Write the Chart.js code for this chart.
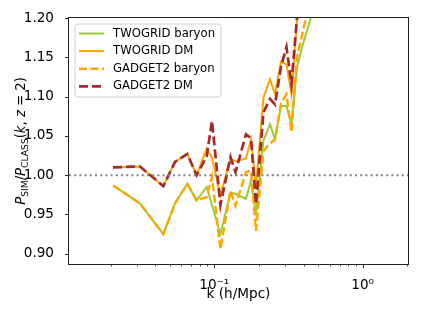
<!DOCTYPE html>
<html>
<head>
<meta charset="utf-8">
<script src="https://cdn.jsdelivr.net/npm/chart.js@4/dist/chart.umd.min.js"></script>
<style>
  html, body { margin: 0; padding: 0; background: #fff; }
  #wrap { width: 421px; height: 316px; }
</style>
</head>
<body>
<div id="wrap"><canvas id="ratio-chart" width="421" height="316"></canvas></div>
<script>
// k grid (h/Mpc) and P_sim / P_class ratios
const kValues = [0.0208, 0.0316, 0.0454, 0.0544, 0.0658, 0.0761, 0.0889, 0.0965, 0.110, 0.1286,
                 0.139, 0.1635, 0.1768, 0.191, 0.2145, 0.2373, 0.2566, 0.2815, 0.3065, 0.3313,
                 0.3608, 0.396, 0.4346, 0.48];

const twogridBaryon = [0.987, 0.964, 0.925, 0.964, 0.989, 0.968, 0.985, 0.962, 0.925, 0.978,
                       0.976, 0.970, 0.993, 0.951, 1.044, 1.065, 1.046, 1.088, 1.088, 1.065,
                       1.137, 1.167, 1.192, 1.225];
const twogridDM = [1.010, 1.011, 0.986, 1.017, 1.027, 1.000, 1.034, 1.022, 0.975, 1.021,
                   1.018, 1.021, 1.046, 0.985, 1.099, 1.122, 1.103, 1.144, 1.141, 1.103,
                   1.197, 1.240, 1.280, 1.320];
const gadgetBaryon = [0.987, 0.964, 0.925, 0.964, 0.989, 0.968, 0.972, 0.998, 0.906, 0.980,
                      0.961, 1.004, 1.006, 0.929, 1.031, 1.040, 1.046, 1.091, 1.103, 1.055,
                      1.150, 1.184, 1.215, 1.260];
const gadgetDM = [1.010, 1.011, 0.986, 1.017, 1.027, 1.000, 1.024, 1.069, 0.962, 1.023,
                  1.004, 1.052, 1.047, 0.963, 1.080, 1.097, 1.090, 1.138, 1.163, 1.116,
                  1.200, 1.240, 1.280, 1.320];

const refLineX = [0.0105, 2.02];
const refLineY = [1.0, 1.0];

const yTicks = [0.90, 0.95, 1.00, 1.05, 1.10, 1.15, 1.20];
const xMajorTicks = [0.1, 1];
const xMajorLabels = ['10\u207B\u00B9', '10\u2070'];
const xMinorTicks = [0.02, 0.03, 0.04, 0.05, 0.06, 0.07, 0.08, 0.09,
                     0.2, 0.3, 0.4, 0.5, 0.6, 0.7, 0.8, 0.9, 2];

const legendLabels = ['TWOGRID baryon', 'TWOGRID DM', 'GADGET2 baryon', 'GADGET2 DM'];

Chart.defaults.font.family = "'DejaVu Sans', sans-serif";
Chart.defaults.color = '#000';

function toPoints(xs, ys) {
    return xs.map((x, i) => ({ x: x, y: ys[i] }));
}

// frame + matplotlib style tick marks
const framePlugin = {
    id: 'frame',
    afterDraw(chart) {
        const ctx = chart.ctx;
        const area = chart.chartArea;
        const xs = chart.scales.x;
        const ys = chart.scales.y;
        ctx.save();
        ctx.strokeStyle = '#222';
        ctx.lineWidth = 1;
        ctx.strokeRect(area.left - 0.5, area.top - 0.5, area.right - area.left + 1, area.bottom - area.top + 1);

        ctx.beginPath();
        yTicks.forEach(v => {
            const py = Math.round(ys.getPixelForValue(v)) + 0.5;
            ctx.moveTo(area.left - 0.5, py);
            ctx.lineTo(area.left - 4, py);
        });
        xMajorTicks.forEach(v => {
            const px = Math.round(xs.getPixelForValue(v)) + 0.5;
            ctx.moveTo(px, area.bottom + 0.5);
            ctx.lineTo(px, area.bottom + 4);
        });
        ctx.stroke();

        ctx.beginPath();
        ctx.lineWidth = 0.8;
        xMinorTicks.forEach(v => {
            const px = Math.round(xs.getPixelForValue(v)) + 0.5;
            ctx.moveTo(px, area.bottom + 0.5);
            ctx.lineTo(px, area.bottom + 2.5);
        });
        ctx.stroke();
        ctx.restore();
    }
};

// legend box in the upper left, like matplotlib's
const legendPlugin = {
    id: 'boxLegend',
    afterDraw(chart) {
        const ctx = chart.ctx;
        const x0 = 75, y0 = 24, w = 146, h = 73, r = 3;
        ctx.save();
        ctx.beginPath();
        ctx.moveTo(x0 + r, y0);
        ctx.arcTo(x0 + w, y0, x0 + w, y0 + h, r);
        ctx.arcTo(x0 + w, y0 + h, x0, y0 + h, r);
        ctx.arcTo(x0, y0 + h, x0, y0, r);
        ctx.arcTo(x0, y0, x0 + w, y0, r);
        ctx.closePath();
        ctx.fillStyle = 'rgba(255,255,255,0.8)';
        ctx.fill();
        ctx.strokeStyle = '#d0d0d0';
        ctx.lineWidth = 1;
        ctx.stroke();

        ctx.font = "11.7px 'DejaVu Sans'";
        ctx.textBaseline = 'middle';
        ctx.fillStyle = '#000';
        legendLabels.forEach((label, i) => {
            const ds = chart.data.datasets[i];
            const rowY = 33.5 + i * 17.6;
            ctx.beginPath();
            ctx.strokeStyle = ds.borderColor;
            ctx.lineWidth = ds.borderWidth;
            ctx.setLineDash(ds.borderDash || []);
            ctx.moveTo(79, rowY);
            ctx.lineTo(104, rowY);
            ctx.stroke();
            ctx.setLineDash([]);
            ctx.fillText(label, 113, rowY);
        });
        ctx.restore();
    }
};

// rotated y label with subscripts
const yLabelPlugin = {
    id: 'yLabel',
    afterDraw(chart) {
        const ctx = chart.ctx;
        const area = chart.chartArea;
        const big = 13.2, small = 9.2;
        const parts = [
            { t: 'P', f: `italic ${big}px 'DejaVu Sans'`, dy: 0 },
            { t: 'SIM', f: `${small}px 'DejaVu Sans'`, dy: 2.8 },
            { t: '/', f: `${big}px 'DejaVu Sans'`, dy: 0 },
            { t: 'P', f: `italic ${big}px 'DejaVu Sans'`, dy: 0 },
            { t: 'CLASS', f: `${small}px 'DejaVu Sans'`, dy: 2.8 },
            { t: '(', f: `${big}px 'DejaVu Sans'`, dy: 0 },
            { t: 'k', f: `italic ${big}px 'DejaVu Sans'`, dy: 0 },
            { t: ', ', f: `${big}px 'DejaVu Sans'`, dy: 0 },
            { t: 'z', f: `italic ${big}px 'DejaVu Sans'`, dy: 0 },
            { t: ' = 2)', f: `${big}px 'DejaVu Sans'`, dy: 0 }
        ];
        ctx.save();
        let total = 0;
        parts.forEach(p => { ctx.font = p.f; p.w = ctx.measureText(p.t).width; total += p.w; });
        ctx.translate(25, (area.top + area.bottom) / 2);
        ctx.rotate(-Math.PI / 2);
        ctx.fillStyle = '#000';
        ctx.textBaseline = 'alphabetic';
        let pos = -total / 2;
        parts.forEach(p => {
            ctx.font = p.f;
            ctx.fillText(p.t, pos, p.dy);
            pos += p.w;
        });
        ctx.restore();
    }
};

const ctx = document.getElementById('ratio-chart').getContext('2d');

const chart = new Chart(ctx, {
    type: 'line',
    data: {
        datasets: [
            {
                label: 'TWOGRID baryon',
                data: toPoints(kValues, twogridBaryon),
                borderColor: '#9acd32',
                borderWidth: 2,
                order: 5
            },
            {
                label: 'TWOGRID DM',
                data: toPoints(kValues, twogridDM),
                borderColor: '#ffa500',
                borderWidth: 2,
                order: 4
            },
            {
                label: 'GADGET2 baryon',
                data: toPoints(kValues, gadgetBaryon),
                borderColor: '#ffa500',
                borderWidth: 2.4,
                borderDash: [8, 3.5],
                order: 3
            },
            {
                label: 'GADGET2 DM',
                data: toPoints(kValues, gadgetDM),
                borderColor: '#a52a2a',
                borderWidth: 2.7,
                borderDash: [9, 4],
                order: 2
            },
            {
                label: 'ref',
                data: toPoints(refLineX, refLineY),
                borderColor: '#808080',
                borderWidth: 2,
                borderDash: [2, 3.2],
                order: 1
            }
        ]
    },
    options: {
        responsive: false,
        animation: false,
        layout: { padding: { left: 0, top: 18, right: 13, bottom: 0 } },
        elements: {
            point: { radius: 0 },
            line: { tension: 0, fill: false, borderCapStyle: 'butt' }
        },
        datasets: { line: { clip: 0 } },
        plugins: {
            legend: { display: false },
            tooltip: { enabled: false }
        },
        scales: {
            x: {
                type: 'logarithmic',
                min: 0.0105,
                max: 2.02,
                grid: { display: false },
                border: { display: false },
                afterBuildTicks: function(scale) {
                    scale.ticks = xMajorTicks.map(v => ({ value: v }));
                },
                afterFit: function(scale) { scale.height = 52; },
                ticks: {
                    autoSkip: false,
                    maxRotation: 0,
                    padding: 5,
                    font: { size: 13.6 },
                    callback: function(value) {
                        const i = xMajorTicks.indexOf(value);
                        return i >= 0 ? xMajorLabels[i] : '';
                    }
                },
                title: {
                    display: true,
                    text: 'k (h/Mpc)',
                    font: { size: 13.6 },
                    padding: { top: 0, bottom: 13 }
                }
            },
            y: {
                min: 0.887,
                max: 1.2,
                grid: { display: false },
                border: { display: false },
                afterBuildTicks: function(scale) {
                    scale.ticks = yTicks.map(v => ({ value: v }));
                },
                afterFit: function(scale) { scale.width = 69; },
                ticks: {
                    padding: 7,
                    font: { size: 13.6 },
                    callback: function(value) { return value.toFixed(2); }
                }
            }
        }
    },
    plugins: [framePlugin, legendPlugin, yLabelPlugin]
});
</script>
</body>
</html>
